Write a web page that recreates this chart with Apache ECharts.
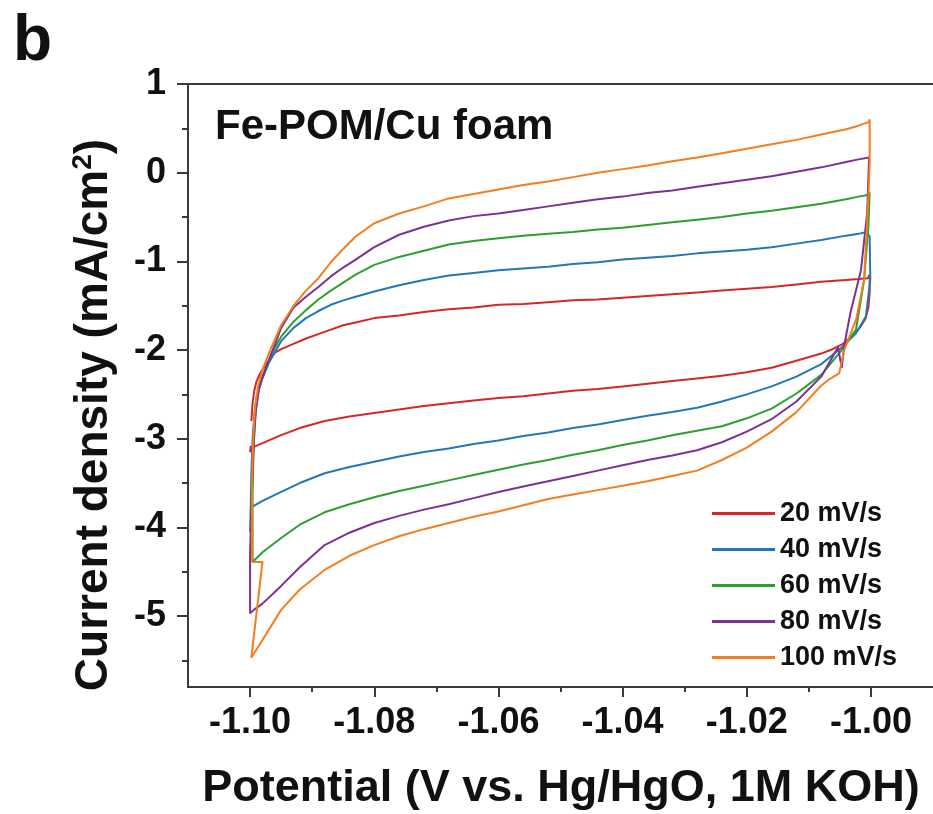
<!DOCTYPE html>
<html>
<head>
<meta charset="utf-8">
<script src="https://cdn.jsdelivr.net/npm/echarts/dist/echarts.min.js"></script>
<style>
html,body{margin:0;padding:0;background:#fff;}
#chart{width:933px;height:814px;}
</style>
</head>
<body>
<div id="chart"></div>
<script>
// ---- axis ticks ----
const xTicks = [-1.10, -1.08, -1.06, -1.04, -1.02, -1.00];
const xMinorTicks = [-1.09, -1.07, -1.05, -1.03, -1.01];
const yTicks = [-5, -4, -3, -2, -1, 0, 1];
const yMinorTicks = [-5.5, -4.5, -3.5, -2.5, -1.5, -0.5, 0.5];
const seriesNames = ['20 mV/s', '40 mV/s', '60 mV/s', '80 mV/s', '100 mV/s'];

// ---- 20 mV/s (potential V, current density mA/cm2), loop order ----
const redV = [-1.0998, -1.0996, -1.0993, -1.099, -1.0985, -1.098, -1.097, -1.096,
  -1.095, -1.093, -1.091, -1.089, -1.087, -1.085, -1.083, -1.080, -1.076, -1.072, -1.068, -1.064, -1.060, -1.056, -1.052, -1.048, -1.044, -1.040, -1.036, -1.032, -1.028, -1.024, -1.020, -1.016, -1.012, -1.008, -1.004, -1.002,
  -1.0005, -1.0002, -1.0002, -1.0004, -1.0009, -1.0018, -1.003, -1.0045, -1.0065,
  -1.008, -1.012, -1.016, -1.020, -1.024, -1.028, -1.032, -1.036, -1.040, -1.044, -1.048, -1.052, -1.056, -1.060, -1.064, -1.068, -1.072, -1.076, -1.080, -1.084, -1.088, -1.092, -1.095, -1.098,
  -1.0993, -1.0998, -1.1, -1.0999];
const redJ = [-2.80, -2.60, -2.45, -2.36, -2.28, -2.22, -2.12, -2.03,
  -1.99, -1.93, -1.87, -1.82, -1.77, -1.72, -1.69, -1.64, -1.61, -1.57, -1.54, -1.52, -1.49, -1.48, -1.46, -1.44, -1.43, -1.41, -1.39, -1.37, -1.35, -1.33, -1.31, -1.29, -1.26, -1.23, -1.21, -1.20,
  -1.19, -1.15, -1.35, -1.52, -1.65, -1.75, -1.84, -1.93, -2.00,
  -2.04, -2.12, -2.20, -2.25, -2.29, -2.32, -2.35, -2.38, -2.41, -2.44, -2.46, -2.49, -2.52, -2.54, -2.57, -2.60, -2.63, -2.67, -2.71, -2.75, -2.80, -2.88, -2.96, -3.05,
  -3.09, -3.12, -3.15, -3.08];

// ---- 40 mV/s ----
const blueV = [-1.1, -1.0999, -1.0998, -1.0996, -1.0993, -1.099, -1.0985, -1.098, -1.097, -1.096,
  -1.095, -1.093, -1.091, -1.089, -1.087, -1.085, -1.083, -1.080, -1.076, -1.072, -1.068, -1.064, -1.060, -1.056, -1.052, -1.048, -1.044, -1.040, -1.036, -1.032, -1.028, -1.024, -1.020, -1.016, -1.012, -1.008, -1.004, -1.002,
  -1.0007, -1.0002, -1.0001, -1.0008, -1.0024, -1.0047,
  -1.008, -1.012, -1.016, -1.020, -1.024, -1.028, -1.032, -1.036, -1.040, -1.044, -1.048, -1.052, -1.056, -1.060, -1.064, -1.068, -1.072, -1.076, -1.080, -1.084, -1.088, -1.092, -1.095, -1.098,
  -1.0997, -1.1];
const blueJ = [-4.05, -3.80, -3.40, -3.00, -2.72, -2.55, -2.42, -2.32, -2.15, -2.02,
  -1.90, -1.75, -1.64, -1.56, -1.49, -1.44, -1.40, -1.34, -1.27, -1.21, -1.16, -1.13, -1.10, -1.08, -1.06, -1.03, -1.01, -0.98, -0.96, -0.94, -0.91, -0.89, -0.87, -0.84, -0.80, -0.76, -0.71, -0.69,
  -0.67, -0.72, -1.20, -1.62, -1.81, -1.97,
  -2.16, -2.30, -2.41, -2.50, -2.58, -2.65, -2.70, -2.74, -2.79, -2.84, -2.88, -2.93, -2.97, -3.02, -3.06, -3.11, -3.15, -3.20, -3.26, -3.32, -3.39, -3.50, -3.60, -3.70,
  -3.77, -3.80];

// ---- 60 mV/s ----
const greenV = [-1.0996, -1.0996, -1.0994, -1.0991, -1.0986, -1.098, -1.097, -1.0965,
  -1.095, -1.093, -1.091, -1.089, -1.087, -1.085, -1.083, -1.080, -1.076, -1.072, -1.068, -1.064, -1.060, -1.056, -1.052, -1.048, -1.044, -1.040, -1.036, -1.032, -1.028, -1.024, -1.020, -1.016, -1.012, -1.008, -1.004, -1.002,
  -1.0003, -1.0002, -1.0004, -1.0011, -1.0024, -1.0047,
  -1.008, -1.012, -1.016, -1.020, -1.024, -1.028, -1.032, -1.036, -1.040, -1.044, -1.048, -1.052, -1.056, -1.060, -1.064, -1.068, -1.072, -1.076, -1.080, -1.084, -1.088, -1.092, -1.095, -1.098,
  -1.0996];
const greenJ = [-4.39, -3.60, -3.00, -2.68, -2.45, -2.30, -2.13, -2.03,
  -1.85, -1.68, -1.55, -1.43, -1.33, -1.24, -1.15, -1.04, -0.95, -0.88, -0.81, -0.77, -0.74, -0.71, -0.69, -0.67, -0.64, -0.62, -0.59, -0.56, -0.53, -0.50, -0.46, -0.43, -0.39, -0.35, -0.30, -0.27,
  -0.25, -0.22, -0.60, -1.21, -1.77, -2.00,
  -2.28, -2.49, -2.66, -2.77, -2.86, -2.91, -2.96, -3.02, -3.07, -3.13, -3.18, -3.24, -3.29, -3.35, -3.41, -3.47, -3.53, -3.59, -3.66, -3.74, -3.83, -3.97, -4.12, -4.28,
  -4.39];

// ---- 80 mV/s ----
const purpleV = [-1.1, -1.0997, -1.0994, -1.0991, -1.0986, -1.098, -1.097, -1.0965,
  -1.095, -1.093, -1.091, -1.089, -1.087, -1.085, -1.083, -1.080, -1.076, -1.072, -1.068, -1.064, -1.060, -1.056, -1.052, -1.048, -1.044, -1.040, -1.036, -1.032, -1.028, -1.024, -1.020, -1.016, -1.012, -1.008, -1.004, -1.002,
  -1.0003, -1.0002, -1.0006, -1.0016, -1.0033, -1.0043, -1.0047, -1.0053,
  -1.008, -1.012, -1.016, -1.020, -1.024, -1.028, -1.032, -1.036, -1.040, -1.044, -1.048, -1.052, -1.056, -1.060, -1.064, -1.068, -1.072, -1.076, -1.080, -1.084, -1.088, -1.092, -1.095, -1.098,
  -1.0994, -1.1, -1.1];
const purpleJ = [-4.28, -3.60, -3.05, -2.70, -2.45, -2.30, -2.12, -2.03,
  -1.75, -1.52, -1.40, -1.29, -1.17, -1.07, -0.98, -0.84, -0.70, -0.61, -0.54, -0.49, -0.46, -0.42, -0.38, -0.34, -0.30, -0.27, -0.23, -0.20, -0.16, -0.12, -0.08, -0.04, 0.01, 0.06, 0.12, 0.15,
  0.17, 0.17, -0.45, -1.10, -1.58, -1.95, -2.20, -1.97,
  -2.30, -2.58, -2.78, -2.92, -3.04, -3.13, -3.19, -3.24, -3.30, -3.36, -3.42, -3.48, -3.54, -3.60, -3.67, -3.74, -3.80, -3.87, -3.95, -4.06, -4.20, -4.45, -4.66, -4.86,
  -4.93, -4.97, -4.28];

// ---- 100 mV/s ----
const orangeV = [-1.0997, -1.0997, -1.0995, -1.0992, -1.0987, -1.098, -1.0972, -1.0965,
  -1.095, -1.093, -1.091, -1.089, -1.087, -1.085, -1.083, -1.080, -1.076, -1.072, -1.068, -1.064, -1.060, -1.056, -1.052, -1.048, -1.044, -1.040, -1.036, -1.032, -1.028, -1.024, -1.020, -1.016, -1.012, -1.008, -1.004, -1.002,
  -1.0004, -1.0002, -1.0002, -1.0004, -1.0011, -1.0024, -1.0043, -1.0051, -1.0069,
  -1.008, -1.012, -1.016, -1.020, -1.024, -1.028, -1.032, -1.036, -1.040, -1.044, -1.048, -1.052, -1.056, -1.060, -1.064, -1.068, -1.072, -1.076, -1.080, -1.084, -1.088, -1.092, -1.095, -1.098,
  -1.099, -1.0998, -1.098, -1.0997];
const orangeJ = [-4.39, -3.60, -3.00, -2.65, -2.40, -2.22, -2.08, -1.96,
  -1.72, -1.50, -1.33, -1.19, -1.01, -0.86, -0.72, -0.57, -0.46, -0.38, -0.29, -0.24, -0.19, -0.14, -0.10, -0.05, 0.00, 0.04, 0.08, 0.13, 0.17, 0.22, 0.27, 0.32, 0.37, 0.43, 0.49, 0.53,
  0.57, 0.60, 0.10, -0.27, -1.21, -1.66, -2.00, -2.26, -2.34,
  -2.40, -2.70, -2.92, -3.10, -3.24, -3.36, -3.42, -3.48, -3.53, -3.58, -3.63, -3.68, -3.75, -3.82, -3.88, -3.95, -4.02, -4.10, -4.20, -4.32, -4.48, -4.70, -4.93, -5.27,
  -5.38, -5.47, -4.39, -4.39];

const seriesColors = ['#d62728', '#2377b4', '#2ca02c', '#7b3294', '#f47d20'];
const potentialLists = [redV, blueV, greenV, purpleV, orangeV];
const currentLists = [redJ, blueJ, greenJ, purpleJ, orangeJ];

const FONT = '"Liberation Sans", Arial, Helvetica, sans-serif';
const chart = echarts.init(document.getElementById('chart'), null, {renderer: 'canvas'});

const series = seriesNames.map((name, k) => ({
  name: name,
  type: 'line',
  data: potentialLists[k].map((v, i) => [v, currentLists[k][i]]),
  showSymbol: false,
  symbol: 'none',
  smooth: false,
  clip: true,
  color: seriesColors[k],
  lineStyle: {width: 2, color: seriesColors[k]},
  z: 3 + k
}));

const axisColor = '#3a3a3a';

chart.setOption({
  animation: false,
  backgroundColor: '#ffffff',
  grid: {
    left: 188, top: 84, width: 747, height: 603, show: false
  },
  xAxis: [
    {
      type: 'value', min: -1.11, max: -0.99, position: 'bottom',
      axisLine: {show: true, onZero: false, lineStyle: {color: axisColor, width: 2}},
      axisTick: {show: true, customValues: xTicks, length: 10, inside: false, lineStyle: {color: axisColor, width: 2}},
      axisLabel: {show: true, customValues: xTicks, margin: 18, formatter: v => v.toFixed(2),
        fontFamily: FONT, fontWeight: 'bold', fontSize: 36, color: '#111'},
      splitLine: {show: false}
    },
    {
      type: 'value', min: -1.11, max: -0.99, position: 'bottom', offset: 0,
      axisLine: {show: false, onZero: false},
      axisTick: {show: true, customValues: xMinorTicks, length: 5, inside: false, lineStyle: {color: axisColor, width: 2}},
      axisLabel: {show: false},
      splitLine: {show: false}
    },
    {
      type: 'value', min: -1.11, max: -0.99, position: 'top', offset: 0,
      axisLine: {show: true, onZero: false, lineStyle: {color: axisColor, width: 2}},
      axisTick: {show: false},
      axisLabel: {show: false},
      splitLine: {show: false}
    }
  ],
  yAxis: [
    {
      type: 'value', min: -5.8, max: 1, position: 'left',
      axisLine: {show: true, onZero: false, lineStyle: {color: axisColor, width: 2}},
      axisTick: {show: true, customValues: yTicks, length: 11, inside: false, lineStyle: {color: axisColor, width: 2}},
      axisLabel: {show: true, customValues: yTicks, margin: 22, formatter: v => String(v),
        fontFamily: FONT, fontWeight: 'bold', fontSize: 36, color: '#111'},
      splitLine: {show: false}
    },
    {
      type: 'value', min: -5.8, max: 1, position: 'left', offset: 0,
      axisLine: {show: false, onZero: false},
      axisTick: {show: true, customValues: yMinorTicks, length: 6, inside: false, lineStyle: {color: axisColor, width: 2}},
      axisLabel: {show: false},
      splitLine: {show: false}
    }
  ],
  legend: {
    orient: 'vertical',
    left: 712, top: 500,
    padding: 0,
    itemWidth: 63, itemHeight: 3, itemGap: 9,
    icon: 'rect',
    data: seriesNames,
    textStyle: {fontFamily: FONT, fontWeight: 'bold', fontSize: 27, color: '#111'}
  },
  series: series,
  graphic: [
    {type: 'text', x: 13, y: 10, style: {text: 'b', font: 'bold 64px ' + FONT, fill: '#111', align: 'left', verticalAlign: 'top'}},
    {type: 'text', x: 215, y: 127, style: {text: 'Fe-POM/Cu foam', font: 'bold 42px ' + FONT, fill: '#111', align: 'left', verticalAlign: 'middle'}},
    {type: 'text', x: 561, y: 789, style: {text: 'Potential (V vs. Hg/HgO, 1M KOH)', font: 'bold 45px ' + FONT, fill: '#111', align: 'center', verticalAlign: 'middle'}},
    {type: 'text', x: 94, y: 415, rotation: Math.PI / 2,
      style: {
        text: '{a|Current density (mA/cm}{s|2}{a|)}',
        align: 'center', verticalAlign: 'middle', fill: '#111',
        rich: {
          a: {fontFamily: FONT, fontWeight: 'bold', fontSize: 46, lineHeight: 50, fill: '#111', verticalAlign: 'middle'},
          s: {fontFamily: FONT, fontWeight: 'bold', fontSize: 28, lineHeight: 50, fill: '#111', verticalAlign: 'top', padding: [0, 0, 14, 0]}
        }
      }
    }
  ]
});
</script>
</body>
</html>
